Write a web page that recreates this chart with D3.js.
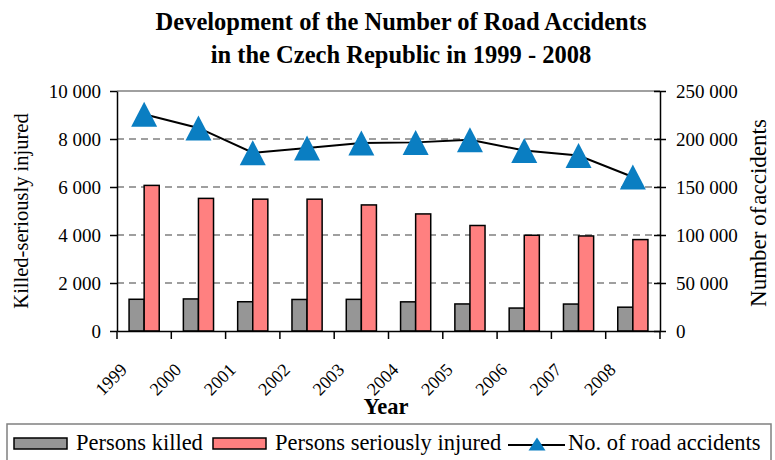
<!DOCTYPE html>
<html>
<head>
<meta charset="utf-8">
<script src="https://cdn.jsdelivr.net/npm/d3@7"></script>
<style>
  body { margin: 0; background: #fff; }
</style>
</head>
<body>
<div class="chart"></div>
<script>
const years = ["1999","2000","2001","2002","2003","2004","2005","2006","2007","2008"];
const killed = [1322, 1336, 1219, 1314, 1319, 1215, 1127, 956, 1123, 992];
const injured = [6067, 5526, 5493, 5492, 5253, 4878, 4396, 3990, 3960, 3809];
const accidents = [225690, 211516, 185664, 190718, 195851, 196484, 199262, 187965, 182736, 160376];
const leftTicks = [0, 2000, 4000, 6000, 8000, 10000];
const rightTicks = [0, 50000, 100000, 150000, 200000, 250000];

const W = 775, H = 460;
const plot = {left: 117, right: 660, top: 91, bottom: 331};
const FONT = "'Liberation Serif', 'Times New Roman', Times, serif";

const fmt = v => d3.format(",")(v).replace(/,/g, " ");

const svg = d3.select(".chart").append("svg")
    .attr("width", W).attr("height", H)
    .attr("font-family", FONT);

// title
const title = svg.append("text")
    .attr("text-anchor", "middle")
    .style("font-family", FONT)
    .style("font-size", "24.5px").style("font-weight", "bold");
title.append("tspan").attr("x", 401).attr("y", 30).text("Development of the Number of Road Accidents");
title.append("tspan").attr("x", 401).attr("y", 63).text("in the Czech Republic in 1999 - 2008");

// scales
const x = d3.scaleBand().domain(years).range([plot.left, plot.right]);
const x1 = d3.scaleBand().domain(["killed", "injured"])
    .range([0, x.bandwidth()]).paddingOuter(0.8);
const yL = d3.scaleLinear().domain([0, 10000]).range([plot.bottom, plot.top]);
const yR = d3.scaleLinear().domain([0, 250000]).range([plot.bottom, plot.top]);

// gridlines
svg.append("g").selectAll("line")
    .data(leftTicks.filter(d => d > 0))
  .enter().append("line")
    .attr("x1", plot.left).attr("x2", plot.right)
    .attr("y1", d => yL(d)).attr("y2", d => yL(d))
    .attr("stroke", "#808080").attr("stroke-width", 1.5)
    .attr("stroke-dasharray", d => d == 10000 ? null : "7,5");

// bars
const barData = years.map((y, i) => ({year: y, killed: killed[i], injured: injured[i]}));
const groups = svg.append("g").selectAll("g")
    .data(barData)
  .enter().append("g")
    .attr("transform", d => "translate(" + x(d.year) + ",0)");

groups.append("rect")
    .attr("x", x1("killed")).attr("width", x1.bandwidth())
    .attr("y", d => yL(d.killed)).attr("height", d => plot.bottom - yL(d.killed))
    .style("fill", "#969696").style("stroke", "#000").style("stroke-width", 1.5);
groups.append("rect")
    .attr("x", x1("injured")).attr("width", x1.bandwidth())
    .attr("y", d => yL(d.injured)).attr("height", d => plot.bottom - yL(d.injured))
    .style("fill", "#FF8080").style("stroke", "#000").style("stroke-width", 1.5);

// line + triangles
const cx = d => x(d) + x.bandwidth() / 2;
const line = d3.line()
    .x((d, i) => cx(years[i]))
    .y(d => yR(d));
svg.append("path")
    .datum(accidents)
    .attr("d", line)
    .attr("fill", "none").attr("stroke", "#000").attr("stroke-width", 2);

const tri = "M0,-12.5L13,12.5L-13,12.5Z";
svg.append("g").selectAll("path")
    .data(accidents)
  .enter().append("path")
    .attr("d", tri)
    .attr("transform", (d, i) => "translate(" + cx(years[i]) + "," + yR(d) + ")")
    .style("fill", "#0A7EC2");

// axes
const leftAxis = d3.axisLeft(yL).tickValues(leftTicks).tickFormat(fmt)
    .tickSizeInner(7).tickSizeOuter(0).tickPadding(9);
const gL = svg.append("g").attr("transform", "translate(" + plot.left + ",0)").call(leftAxis);

const rightAxis = d3.axisRight(yR).tickValues(rightTicks).tickFormat(fmt)
    .tickSizeInner(6).tickSizeOuter(0).tickPadding(10);
const gR = svg.append("g").attr("transform", "translate(" + plot.right + ",0)").call(rightAxis);
gR.selectAll(".tick line").attr("x1", -6);

const bottomAxis = d3.axisBottom(x).tickSize(0).tickFormat("");
const gB = svg.append("g").attr("transform", "translate(0," + plot.bottom + ")").call(bottomAxis);
gB.selectAll(".tick").remove();
// category boundary ticks
gB.selectAll(".bt")
    .data(years.concat(["end"]))
  .enter().append("line")
    .attr("x1", d => d == "end" ? plot.right : x(d))
    .attr("x2", d => d == "end" ? plot.right : x(d))
    .attr("y1", 0).attr("y2", 8)
    .attr("stroke", "#000").attr("stroke-width", 1.5);

[gL, gR, gB].forEach(g => {
  g.attr("font-family", FONT);
  g.selectAll(".domain").attr("stroke", "#000").attr("stroke-width", 1.5);
  g.selectAll(".tick line").attr("stroke", "#000").attr("stroke-width", 1.5);
  g.selectAll("text").style("font-size", "19px").style("font-family", FONT).attr("fill", "#000");
});

// rotated year labels
svg.append("g").selectAll("text")
    .data(years)
  .enter().append("text")
    .attr("text-anchor", "end")
    .attr("transform", d => "translate(" + (cx(d) - 16) + ",371) rotate(-45)")
    .style("font-size", "18px").style("font-family", FONT)
    .text(d => d);

// axis titles
svg.append("text")
    .attr("transform", "translate(28,211) rotate(-90)")
    .attr("text-anchor", "middle").style("font-size", "20.5px").style("font-family", FONT)
    .text("Killed-seriously injured");
const rt = svg.append("text")
    .attr("transform", "translate(766,213) rotate(-90)")
    .attr("text-anchor", "middle").style("font-size", "23px").style("font-family", FONT);
rt.append("tspan").text("Number of");
rt.append("tspan").attr("dx", 2).text("accidents");
svg.append("text")
    .attr("x", 386).attr("y", 414).attr("text-anchor", "middle")
    .style("font-size", "22.5px").style("font-weight", "bold").style("font-family", FONT)
    .text("Year");

// legend
const lg = svg.append("g");
lg.append("rect")
    .attr("x", 7).attr("y", 424).attr("width", 764).attr("height", 40)
    .attr("fill", "#fff").attr("stroke", "#808080").attr("stroke-width", 1.5);
const legendItems = [
  {label: "Persons killed", type: "rect", color: "#969696", x: 14, tx: 76},
  {label: "Persons seriously injured", type: "rect", color: "#FF8080", x: 213, tx: 275},
  {label: "No. of road accidents", type: "line", color: "#0A7EC2", x: 508, tx: 568}
];
legendItems.forEach(it => {
  if (it.type == "rect") {
    lg.append("rect").attr("x", it.x).attr("y", 438).attr("width", 53).attr("height", 11)
      .attr("fill", it.color).attr("stroke", "#000").attr("stroke-width", 1.5);
  } else {
    lg.append("line").attr("x1", it.x).attr("x2", it.x + 57).attr("y1", 445).attr("y2", 445)
      .attr("stroke", "#000").attr("stroke-width", 2);
    lg.append("path").attr("d", "M0,-6.5L8.5,6.5L-8.5,6.5Z")
      .attr("transform", "translate(" + (it.x + 29) + ",444)").attr("fill", it.color);
  }
  lg.append("text").attr("x", it.tx).attr("y", 450).style("font-size", "22.5px")
    .style("font-family", FONT).text(it.label);
});
</script>
</body>
</html>
